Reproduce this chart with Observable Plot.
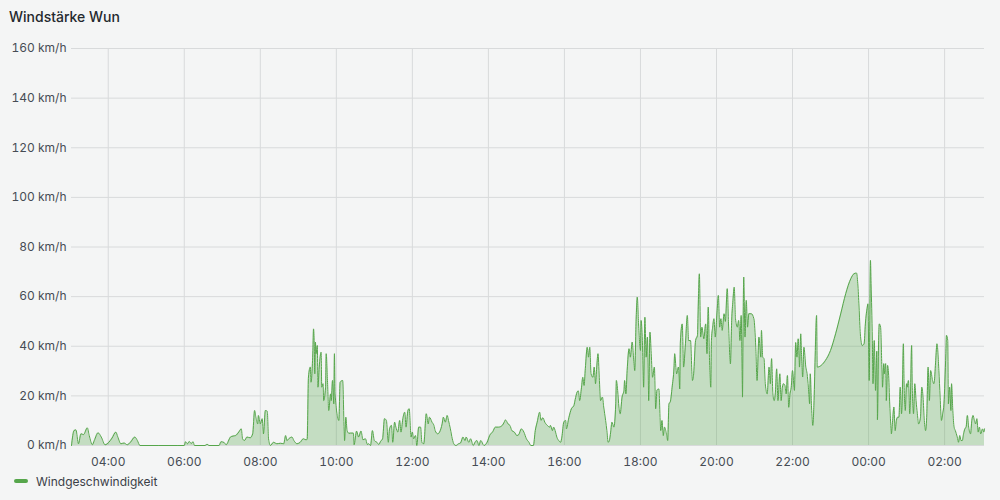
<!DOCTYPE html>
<html><head><meta charset="utf-8">
<script src="https://cdn.jsdelivr.net/npm/d3@7"></script>
<script src="https://cdn.jsdelivr.net/npm/@observablehq/plot@0.6"></script>
<style>
html,body{margin:0;padding:0;background:#f4f5f5;width:1000px;height:500px;overflow:hidden;font-family:Inter,"DejaVu Sans",sans-serif;}
#title{position:absolute;left:9px;top:8px;font-size:14px;font-weight:500;color:#24292e;line-height:18px;}
#chart{position:absolute;left:0;top:30px;}
#legend{position:absolute;left:14px;top:472px;height:18px;display:flex;align-items:center;font-size:12px;color:#3b4047;}
.sw{display:inline-block;width:14px;height:4px;border-radius:2px;background:#56a64b;margin-right:8px;}
</style></head><body>
<div id="title">Windstärke Wun</div>
<div id="chart"></div>
<div id="legend"><span class="sw"></span><span>Windgeschwindigkeit</span></div>
<script>
// minutes after 03:00 (start of the window) and wind speed in km/h
const minutes = [
  2,6,9,13,17,21,27,30,35,38,44,49,55,61,66,72,75,80,85,90,95,102,106,110,140,170,180,182,185,188,191,194,196,213,216,219,235,238,243,246,
  253,257,261,266,270,272,275,279,284,288,291,293,296,297,300,303,305,308,311,313,316,321,326,332,337,340,342,345,350,353,358,363,368,372,374,
  376,379,380,383,384,385,386,387,388,390,391,393,396,397,399,400,403,404,406,408,411,412,414,416,417,418,424,426,430,433,435,437,440,
  442,447,448,452,455,459,462,466,469,471,474,477,480,484,487,490,493,496,499,502,504,507,509,512,514,517,520,522,525,528,
  530,533,535,538,540,542,545,547,550,553,555,558,562,565,567,571,574,576,580,583,587,589,592,595,597,600,603,606,609,613,
  616,620,623,625,629,632,636,639,642,645,648,653,658,662,667,671,676,682,685,687,691,694,697,701,705,708,712,716,720,724,
  727,731,734,737,741,743,746,749,753,757,758,761,763,766,768,771,774,776,779,782,783,787,791,795,797,800,802,804,807,809,
  811,813,816,818,820,822,825,827,829,831,833,835,837,840,842,845,847,849,851,853,855,858,861,862,864,866,868,871,874,875,
  877,879,882,884,887,889,891,893,895,897,900,901,903,905,907,909,911,913,915,917,919,922,924,926,
  929,932,934,936,938,941,943,945,947,950,953,954,957,960,962,963,966,968,971,974,976,979,982,984,987,990,991,993,995,997,
  1000,1003,1005,1007,1009,1011,1012,1014,1016,1018,1021,1023,1025,1027,1029,1032,1034,
  1037,1039,1042,1044,1046,1048,1050,1053,1055,1057,1059,1061,1062,1063,1065,1067,1069,1071,1075,1079,
  1082,1084,1087,1090,1091,1093,1095,1097,1100,1103,1105,1107,1109,1111,1113,1115,1117,1120,1122,1124,
  1126,1128,1130,1132,1134,1136,1138,1140,1143,1145,
  1147,1149,1151,1153,1154,1156,1158,1161,1163,1165,1167,1168,1170,1172,1174,1176,1178,1179,1192,1200,
  1208,1216,1224,1232,1237,1241,1243,1245,1247,1250,1253,1255,1258,1259,1261,1263,1264,1266,1267,1269,1271,
  1273,1274,1276,1277,1279,1281,1282,1284,1285,1287,1288,1290,1292,1293,1295,1296,1298,1300,1302,1304,
  1306,1308,1310,1312,1313,1315,1316,1318,1320,1321,1323,1325,1326,1328,1329,1331,1333,1335,1337,1339,
  1342,1344,1346,1348,1350,1352,1354,1356,1358,1361,1363,1364,1366,1368,1371,1373,1375,1377,1379,1382,
  1383,1385,1386,1388,1390,1391,1393,1395,1397,1400,1402,1404,1406,1408,1410,1412,1414,1416,1418,1421,
  1423,1425,1427,1429,1431,1433,1435,1437,1440,1442,1443
];
const speeds = [
  0,6.0,6.3,0.7,4.7,4.4,7.1,4,0.3,2,5.1,3.4,0.3,1.3,3,5.4,3.5,0.7,1,0.3,1.3,3.4,2,0,0,0,0,1.5,0.7,1.6,0.8,1.5,0,0,0.5,0,0,1.5,1.2,0.3,
  3.4,3.8,4,5.4,6.7,2.7,2,3.4,3.1,4.7,14.1,11.4,8.7,12.1,8.7,10.8,4.7,14.1,13.8,2.7,0,1.3,0.7,0.9,0.7,4,2,2.7,3.4,2,0.7,1.3,2.7,2.3,2.5,
  27.6,31.6,25.5,38.3,47,42.3,28.9,41.7,37,40.3,23.5,31.6,37.6,23.5,24.9,18.1,23.5,37,26.2,14.1,20.8,18.1,26.2,16.8,37,20.8,10.1,25.5,26.2,2,11.4,6,4.9,
  5,5,0.3,5.8,3.4,5.8,2.3,2.7,0.4,0.7,0,6,2,1.3,0.4,1.7,2.7,10.8,10.1,1.3,6.7,8.1,1.3,9.4,7.4,5.4,10.1,5.4,10.8,13.4,
  7.4,14.1,14.8,3.4,5.4,2.7,4,0,7.4,7.4,1.3,0.7,12.8,8.7,11.4,9.4,8.1,6,4.7,5.4,8.7,11.4,9.4,12.1,10.1,6.7,2.7,0.4,0,0.7,
  1,3.4,2,3.4,1.3,2.7,0,1.3,2,0,2,0,1.3,4,5.6,7.4,7.4,8.1,9.4,10.3,8.7,8.1,6,5.4,4,4.4,6.7,5.4,2.7,1.3,
  0,0,6,9.4,13.4,10.1,11.2,9.4,8.1,7.4,8.1,6,7.4,5.4,3.4,2,1.3,3.4,9.4,10.1,6.7,11.2,14.8,16.1,18.5,21.5,22,18.1,23.5,27.5,
  24.2,31,39.6,35.6,39.6,28.9,27.5,31.6,24.9,31.6,37,27.5,18.1,19.5,15.5,10.1,6,1.3,2,5.4,9.4,7.4,16.8,26.2,22.2,15.5,12.8,19.5,22.2,26.2,
  20.8,30.2,39,35.6,41.7,35.6,30.2,49,59.8,49,38.3,50.4,42.3,23.5,51.7,35.6,43.7,18.1,45.7,37,27.5,31.6,14.8,22.2,
  22.8,6,10.1,4,7.4,4.7,2,16.8,17.5,23.5,31.6,37,28.9,31.6,22.8,41.7,49,31.6,41,52.4,42.3,42.3,26.2,28.9,42.3,44.4,53.8,69.2,43.7,47.7,
  43,49,37,55.8,34.3,23.5,42.3,47.7,51.1,43.7,54.4,60.5,47.7,51.1,46.4,53.1,50,
  63.2,49,32.9,50.4,58.5,63.8,51.1,47.7,50.4,42.3,52.4,19.5,47.7,67.9,43.7,58.5,47.7,53.1,53.1,51.1,
  39.6,26.2,43.7,35.6,46.4,35.6,35,24.9,20.8,31.6,24.9,35,20.8,18.1,21.5,30.9,18.1,28.9,18.1,23.5,
  24.9,24.2,20.8,28.2,15.4,20.8,23.5,30.2,22.2,41.5,
  35.6,43,31.6,45,38.3,27.6,39.6,31.6,28.9,23.5,16.8,28.9,15.5,8.1,18.1,38.3,52.4,31.6,34.3,38.3,
  45,53,61.2,67.2,69.2,69.5,65.2,55.8,45,40.3,41,49,55.8,57.1,26.2,74.6,65.2,42.3,24.9,42.3,22.2,
  38,10.4,43.7,49,47.7,31.6,23.5,33,28.9,33,18.1,32.3,26.9,19.5,8.7,4.7,10.1,15.5,6,10.1,
  11.4,11.4,23.5,12.8,16.8,41,26.2,14.1,24.9,23.5,26.2,12.8,18.1,40.3,23.5,12.8,24.9,18.1,12.8,8.7,
  11.4,23.5,19.5,10.1,6,12.8,31.6,18.1,30.2,26.2,24.9,26.2,34.3,41,30.2,19.5,10.1,12.8,16.8,37,
  44.4,42.3,16.8,23.5,14.1,24.9,14.1,7.4,6,3.4,1.3,4,2,2,4.7,6.7,7.4,12.1,7.4,4.7,
  10.1,12.1,10.1,8.7,10.8,5.4,7.4,4.7,6.7,5.4,6.7
];
const xTickLabels = ["04:00","06:00","08:00","10:00","12:00","14:00","16:00","18:00","20:00","22:00","00:00","02:00"];
const yTicks = [0,20,40,60,80,100,120,140,160];
const seriesName = "Windgeschwindigkeit";

if (minutes.length !== speeds.length) console.error("length mismatch", minutes.length, speeds.length);

const start = Date.UTC(2024, 0, 1, 3, 0);
const data = minutes.map((m, i) => ({date: new Date(start + m * 60000), speed: speeds[i]}));
const xTicks = xTickLabels.map(s => {
  let h = +s.slice(0, 2);
  if (h < 3) h += 24;
  return new Date(start + (h - 3) * 3600000);
});
const green = "#56a64b";
const gridColor = "#d8dadb";

const chart = Plot.plot({
  width: 1000, height: 440,
  marginLeft: 71, marginRight: 16, marginTop: 18, marginBottom: 25,
  style: {background: "transparent", fontFamily: "Inter, sans-serif", fontSize: "12px", color: "#464c54"},
  x: {type: "utc", domain: [data[0].date, data[data.length - 1].date], ticks: xTicks, tickFormat: d3.utcFormat("%H:%M"), tickSize: 0, tickPadding: 12, label: null},
  y: {domain: [0, 160], ticks: yTicks, tickFormat: d => `${d} km/h`, tickSize: 0, tickPadding: 5, label: null},
  marks: [
    Plot.gridX(xTicks, {stroke: gridColor, strokeOpacity: 1}),
    Plot.gridY(yTicks, {stroke: gridColor, strokeOpacity: 1}),
    Plot.areaY(data, {x: "date", y: "speed", fill: green, fillOpacity: 0.3, curve: "monotone-x"}),
    Plot.lineY(data, {x: "date", y: "speed", stroke: green, strokeWidth: 1, curve: "monotone-x"})
  ]
});
document.getElementById("chart").appendChild(chart);
</script>
</body></html>
